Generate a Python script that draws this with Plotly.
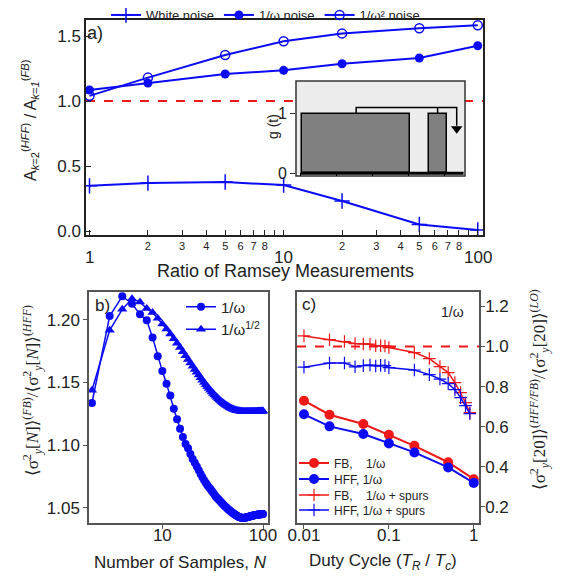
import numpy as np
import plotly.graph_objects as go

W, H = 564, 578
OFF = 8  # the page body adds an 8 px margin around the figure


def px_x(p):
    return (p - OFF) / W


def px_y(p):
    return 1 - (p - OFF) / H


# ---- panel a: amplitude ratio vs ratio of Ramsey measurements
ratio = [1, 2, 5, 10, 20, 50, 100]
white_noise = [0.348, 0.369, 0.377, 0.354, 0.231, 0.051, 0.008]
flicker_noise = [1.085, 1.138, 1.208, 1.236, 1.287, 1.331, 1.425]
walk_noise = [1.040, 1.180, 1.354, 1.459, 1.520, 1.559, 1.582]
major_ticks_a = [1, 10, 100]
minor_ticks_a = [2, 3, 4, 5, 6, 7, 8, 9, 20, 30, 40, 50, 60, 70, 80, 90]
minor_labels_a = ['2', '3', '4', '5', '6', '7', '8', '', '2', '3', '4', '5', '6', '7', '8', '']

# ---- inset: sensitivity function g(t)
bar_left = [0.05, 3.56]
bar_right = [3.03, 4.05]
bar_height = [1, 1]
bracket_x = [1.54, 1.54, 4.33, 4.33]
bracket_y = [1.0, 1.106, 1.106, 0.80]
bracket2_x = [3.80, 3.80]
bracket2_y = [1.0, 1.106]
arrow_x = [4.33]
arrow_y = [0.75]
baseline_x = [0.0, 4.52]
baseline_y = [0, 0]

# ---- panel b: variance ratio vs number of samples
n_samples = list(range(2, 101))
flicker_b = [
    1.1336, 1.2029, 1.2186, 1.2127, 1.2042, 1.1994, 1.1857, 1.1708, 1.1590,
    1.1490, 1.1395, 1.1290, 1.1206, 1.1130, 1.1065, 1.1010, 1.0975, 1.0930,
    1.0890, 1.0860, 1.0830, 1.0800, 1.0770, 1.0745, 1.0720, 1.0700, 1.0680,
    1.0665, 1.0650, 1.0635, 1.0620, 1.0605, 1.0590, 1.0580, 1.0570, 1.0560,
    1.0550, 1.0540, 1.0530, 1.0520, 1.0512, 1.0505, 1.0498, 1.0490, 1.0484,
    1.0478, 1.0472, 1.0466, 1.0460, 1.0455, 1.0450, 1.0446, 1.0442, 1.0438,
    1.0434, 1.0430, 1.0428, 1.0426, 1.0424, 1.0422, 1.0421, 1.0420, 1.0420,
    1.0421, 1.0422, 1.0423, 1.0424, 1.0425, 1.0427, 1.0428, 1.0430, 1.0431,
    1.0432, 1.0434, 1.0435, 1.0436, 1.0437, 1.0438, 1.0440, 1.0441, 1.0442,
    1.0443, 1.0444, 1.0444, 1.0445, 1.0446, 1.0446, 1.0447, 1.0447, 1.0448,
    1.0448, 1.0449, 1.0449, 1.0450, 1.0450, 1.0450, 1.0451, 1.0451, 1.0452,
]
sqrt_b = [
    1.1437, 1.1915, 1.2082, 1.2167, 1.2140, 1.2088, 1.2056, 1.2010, 1.1965,
    1.1925, 1.1885, 1.1848, 1.1812, 1.1778, 1.1745, 1.1713, 1.1683, 1.1655,
    1.1628, 1.1603, 1.1580, 1.1558, 1.1537, 1.1517, 1.1499, 1.1482, 1.1466,
    1.1451, 1.1437, 1.1424, 1.1412, 1.1400, 1.1389, 1.1379, 1.1369, 1.1360,
    1.1352, 1.1344, 1.1337, 1.1330, 1.1324, 1.1318, 1.1313, 1.1308, 1.1303,
    1.1299, 1.1295, 1.1292, 1.1289, 1.1286, 1.1283, 1.1281, 1.1279, 1.1277,
    1.1275, 1.1274, 1.1273, 1.1272, 1.1271, 1.1270, 1.1270, 1.1269, 1.1269,
    1.1268, 1.1268, 1.1268, 1.1268, 1.1268, 1.1268, 1.1268, 1.1268, 1.1268,
    1.1268, 1.1268, 1.1268, 1.1268, 1.1268, 1.1268, 1.1268, 1.1268, 1.1268,
    1.1268, 1.1269, 1.1269, 1.1269, 1.1269, 1.1269, 1.1270, 1.1270, 1.1270,
    1.1270, 1.1270, 1.1270, 1.1271, 1.1271, 1.1271, 1.1271, 1.1272, 1.1272,
]

# ---- panel c: variance ratio vs duty cycle
duty = [0.01, 0.02, 0.05, 0.1, 0.2, 0.5, 1]
fb_flicker = [0.730, 0.660, 0.6135, 0.560, 0.505, 0.423, 0.3385]
hff_flicker = [0.662, 0.602, 0.5635, 0.517, 0.472, 0.397, 0.320]
duty_spur = [0.01, 0.02, 0.03, 0.04, 0.05, 0.06, 0.07, 0.08, 0.09, 0.1,
             0.2, 0.3, 0.4, 0.5, 0.6, 0.7, 0.8, 0.9]
fb_spurs = [1.053, 1.034, 1.025, 1.015, 1.013, 1.012, 1.004, 1.004, 1.003,
            0.995, 0.970, 0.940, 0.900, 0.870, 0.820, 0.770, 0.720, 0.670]
hff_spurs = [0.897, 0.918, 0.918, 0.899, 0.905, 0.908, 0.903, 0.906, 0.905,
             0.895, 0.883, 0.860, 0.838, 0.815, 0.785, 0.745, 0.705, 0.665]

BLUE = '#0b0bf5'
RED = '#f01818'
SANS = 'Liberation Sans, Arial, sans-serif'
SERIF = 'Liberation Serif, DejaVu Serif, serif'

fig = go.Figure()

# panel a traces
fig.add_trace(go.Scatter(x=ratio, y=white_noise, name='White noise', mode='lines+markers',
                         line=dict(color=BLUE, width=2),
                         marker=dict(symbol='cross-thin', size=11, line=dict(color=BLUE, width=1.5)),
                         xaxis='x', yaxis='y', legend='legend'))
fig.add_trace(go.Scatter(x=ratio, y=flicker_noise, name='1/ω noise', mode='lines+markers',
                         line=dict(color=BLUE, width=2), marker=dict(symbol='circle', size=9, color=BLUE),
                         xaxis='x', yaxis='y', legend='legend'))
fig.add_trace(go.Scatter(x=ratio, y=walk_noise, name='1/ω² noise', mode='lines+markers',
                         line=dict(color=BLUE, width=2),
                         marker=dict(symbol='circle-open', size=9, color=BLUE, line=dict(width=1.5)),
                         xaxis='x', yaxis='y', legend='legend'))

# inset traces
fig.add_trace(go.Bar(x=[(l + r) / 2 for l, r in zip(bar_left, bar_right)], y=bar_height,
                     width=[r - l for l, r in zip(bar_left, bar_right)],
                     marker=dict(color='#808080', line=dict(color='black', width=1.5)),
                     xaxis='x4', yaxis='y4', showlegend=False))
fig.add_trace(go.Scatter(x=baseline_x, y=baseline_y, mode='lines', line=dict(color='black', width=3),
                         xaxis='x4', yaxis='y4', showlegend=False))
fig.add_trace(go.Scatter(x=bracket_x, y=bracket_y, mode='lines', line=dict(color='black', width=1.5),
                         xaxis='x4', yaxis='y4', showlegend=False))
fig.add_trace(go.Scatter(x=bracket2_x, y=bracket2_y, mode='lines', line=dict(color='black', width=1.5),
                         xaxis='x4', yaxis='y4', showlegend=False))
fig.add_trace(go.Scatter(x=arrow_x, y=arrow_y, mode='markers',
                         marker=dict(symbol='triangle-down', size=10, color='black'),
                         xaxis='x4', yaxis='y4', showlegend=False))

# panel b traces
fig.add_trace(go.Scatter(x=n_samples, y=flicker_b, name='1/ω', mode='lines+markers',
                         line=dict(color=BLUE, width=1.5), marker=dict(symbol='circle', size=8, color=BLUE),
                         xaxis='x2', yaxis='y2', legend='legend2'))
fig.add_trace(go.Scatter(x=n_samples, y=sqrt_b, name='1/ω<sup>1/2</sup>', mode='lines+markers',
                         line=dict(color=BLUE, width=1.5), marker=dict(symbol='triangle-up', size=9, color=BLUE),
                         xaxis='x2', yaxis='y2', legend='legend2'))

# panel c traces, one legend per entry to keep the tight spacing
fig.add_trace(go.Scatter(x=duty, y=fb_flicker, name='FB,\u00a0\u00a0\u00a0 1/ω', mode='lines+markers',
                         line=dict(color=RED, width=2), marker=dict(symbol='circle', size=10, color=RED),
                         xaxis='x3', yaxis='y3', legend='legend3'))
fig.add_trace(go.Scatter(x=duty, y=hff_flicker, name='HFF, 1/ω', mode='lines+markers',
                         line=dict(color=BLUE, width=2), marker=dict(symbol='circle', size=10, color=BLUE),
                         xaxis='x3', yaxis='y3', legend='legend4'))
fig.add_trace(go.Scatter(x=duty_spur, y=fb_spurs, name='FB,\u00a0\u00a0\u00a0 1/ω + spurs', mode='lines+markers',
                         line=dict(color=RED, width=1.5),
                         marker=dict(symbol='cross-thin', size=9, line=dict(color=RED, width=1.2)),
                         xaxis='x3', yaxis='y3', legend='legend5'))
fig.add_trace(go.Scatter(x=duty_spur, y=hff_spurs, name='HFF, 1/ω + spurs', mode='lines+markers',
                         line=dict(color=BLUE, width=1.5),
                         marker=dict(symbol='cross-thin', size=9, line=dict(color=BLUE, width=1.2)),
                         xaxis='x3', yaxis='y3', legend='legend6'))

frame_a = dict(showline=True, mirror=True, linecolor='#222', linewidth=1.5, ticks='inside',
               tickcolor='#222', ticklen=5, showgrid=False, zeroline=False)
frame_bc = dict(showline=True, mirror=True, linecolor='#555', linewidth=1.5, ticks='outside',
                tickcolor='#555', ticklen=4, showgrid=False, zeroline=False,
                tickfont=dict(size=17, color='#222'))
# inward ticks on the facing sides of panels b and c
mirror_ticks = dict(ticks='inside', ticklen=5, tickcolor='#555', showticklabels=False,
                    showline=False, showgrid=False, zeroline=False)

legend_base = dict(bgcolor='rgba(0,0,0,0)', borderwidth=0, xanchor='left', yanchor='middle')
ticks_b = [1.05, 1.10, 1.15, 1.20]
ticks_c = [0.2, 0.4, 0.6, 0.8, 1.0, 1.2]
range_b = [1.038, 1.222]
range_c = [0.12, 1.272]

fig.update_layout(
    width=W, height=H, template='none',
    # fixed margins: legends must not push the plot areas around
    margin=dict(l=0, r=0, t=0, b=0, autoexpand=False),
    paper_bgcolor='white', plot_bgcolor='rgba(0,0,0,0)',
    font=dict(family=SANS, size=14, color='#222'),
    xaxis=dict(domain=[px_x(86), px_x(483)], type='log', range=[-0.018, 2.027], anchor='y',
               tickvals=major_ticks_a[:1] + minor_ticks_a[:8] + major_ticks_a[1:2] + minor_ticks_a[8:] + major_ticks_a[2:],
               ticktext=[''] + minor_labels_a[:8] + [''] + minor_labels_a[8:] + [''],
               tickfont=dict(size=11), **frame_a),
    yaxis=dict(domain=[px_y(235), px_y(20)], range=[-0.03, 1.623], anchor='x',
               tickvals=[0, 0.5, 1.0, 1.5], tickformat='.1f', tickfont=dict(size=17), **frame_a),
    xaxis2=dict(domain=[px_x(89), px_x(268)], type='log', range=[np.log10(1.87), np.log10(112)],
                anchor='y2', tickvals=[10, 100], ticklabelstandoff=-8, **frame_bc),
    yaxis2=dict(domain=[px_y(523), px_y(292)], range=range_b, anchor='x2',
                tickvals=ticks_b, tickformat='.2f', **frame_bc),
    yaxis5=dict(overlaying='y2', anchor='x2', side='right', range=range_b, tickvals=ticks_b, **mirror_ticks),
    xaxis3=dict(domain=[px_x(297), px_x(479)], type='log', range=[-2.082, 0.062], anchor='y3',
                tickvals=[0.01, 0.1, 1], ticktext=['0.01', '0.1', '1'], ticklabelstandoff=-8, **frame_bc),
    yaxis3=dict(domain=[px_y(523), px_y(292)], range=range_c, anchor='x3', side='right',
                tickvals=ticks_c, tickformat='.1f', ticklabelstandoff=-3, **frame_bc),
    yaxis6=dict(overlaying='y3', anchor='x3', side='left', range=range_c, tickvals=ticks_c, **mirror_ticks),
    xaxis4=dict(domain=[px_x(296), px_x(465)], range=[-0.13, 4.56], anchor='y4',
                tickvals=[0, 1, 2, 3, 4], showticklabels=False, ticks='inside', ticklen=3,
                tickcolor='black', showline=False, showgrid=False, zeroline=False),
    yaxis4=dict(domain=[px_y(176), px_y(81)], range=[-0.045, 1.55], anchor='x4',
                tickvals=[0, 1], ticks='outside', ticklen=5, tickcolor='#333',
                tickfont=dict(size=16), showline=False, showgrid=False, zeroline=False),
    bargap=0,
    legend=dict(orientation='h', x=px_x(106), y=px_y(15), font=dict(size=13), **legend_base),
    legend2=dict(x=px_x(181), y=px_y(318), font=dict(size=15), **legend_base),
    legend3=dict(x=px_x(294), y=px_y(463), font=dict(size=12), **legend_base),
    legend4=dict(x=px_x(294), y=px_y(479), font=dict(size=12), **legend_base),
    legend5=dict(x=px_x(294), y=px_y(495), font=dict(size=12), **legend_base),
    legend6=dict(x=px_x(294), y=px_y(510), font=dict(size=12), **legend_base),
)

# reference line at 1 in panels a and c, grey inset box drawn over the panel a line
fig.add_shape(type='line', xref='x domain', yref='y', x0=0, x1=1, y0=1, y1=1,
              line=dict(color=RED, width=2, dash='dash'), layer='below')
fig.add_shape(type='rect', xref='x4 domain', yref='y4 domain', x0=0, x1=1, y0=0, y1=1,
              fillcolor='#ececec', line=dict(color='#333', width=1.5), layer='below')
fig.add_shape(type='line', xref='x3 domain', yref='y3', x0=0, x1=1, y0=1, y1=1,
              line=dict(color=RED, width=2, dash='dash'), layer='below')

annotations = []
# major tick labels of panel a
for v in major_ticks_a:
    annotations.append(dict(x=np.log10(v), xref='x', y=px_y(257), text=str(v), font=dict(size=17)))
annotations += [
    dict(x=px_x(285), y=px_y(271), text='Ratio of Ramsey Measurements', font=dict(size=18)),
    dict(x=px_x(30), y=px_y(120), textangle=-90, font=dict(size=16),
         text='A<sub><i>k</i>=2</sub><sup>(<i>HFF</i>)</sup> / A<sub><i>k</i>=<i>1</i></sub><sup>(<i>FB</i>)</sup>'),
    dict(x=px_x(273), y=px_y(127), textangle=-90, text='g (t)', font=dict(size=14)),
    dict(x=px_x(95), y=px_y(33), text='a)', font=dict(size=18)),
    dict(x=px_x(102), y=px_y(305), text='b)', font=dict(size=17)),
    dict(x=px_x(309), y=px_y(304), text='c)', font=dict(size=17)),
    dict(x=px_x(452), y=px_y(312), text='1/ω', font=dict(size=14)),
    dict(x=px_x(180), y=px_y(562), text='Number of Samples, <i>N</i>', font=dict(size=17)),
    dict(x=px_x(383), y=px_y(562), font=dict(size=17),
         text='Duty Cycle (<i>T<sub>R</sub></i> / <i>T<sub>c</sub></i>)'),
    dict(x=px_x(32), y=px_y(391), textangle=-90, font=dict(size=17, family=SERIF),
         text='⟨σ<sup>2</sup><sub><i>y</i></sub>[<i>N</i>]⟩<sup>(<i>FB</i>)</sup>/'
              '⟨σ<sup>2</sup><sub><i>y</i></sub>[<i>N</i>]⟩<sup>(<i>HFF</i>)</sup>'),
    dict(x=px_x(539), y=px_y(390), textangle=-90, font=dict(size=17, family=SERIF),
         text='⟨σ<sup>2</sup><sub><i>y</i></sub>[20]⟩<sup>(<i>HFF/FB</i>)</sup>/'
              '⟨σ<sup>2</sup><sub><i>y</i></sub>[20]⟩<sup>(<i>LO</i>)</sup>'),
]
for a in annotations:
    a.setdefault('xref', 'paper')
    a.setdefault('yref', 'paper')
    a.setdefault('showarrow', False)
    a.setdefault('xanchor', 'center')
    a.setdefault('yanchor', 'middle')
fig.update_layout(annotations=annotations)

fig.write_html('out.html')
